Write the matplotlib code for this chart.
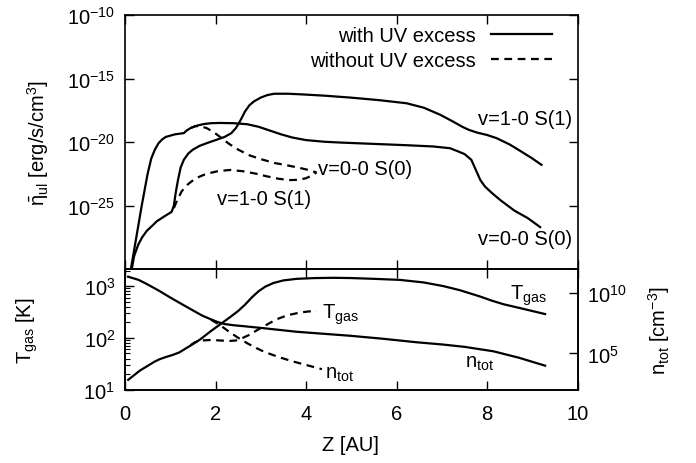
import numpy as np
import matplotlib
matplotlib.use("Agg")
import matplotlib.pyplot as plt
from matplotlib.ticker import FixedLocator, LogLocator, NullLocator, FuncFormatter, NullFormatter

plt.rcParams['font.family'] = ['Liberation Sans', 'DejaVu Sans']
plt.rcParams['mathtext.fontset'] = 'custom'
plt.rcParams['mathtext.rm'] = 'Liberation Sans'
plt.rcParams['mathtext.it'] = 'Liberation Sans'
plt.rcParams['mathtext.bf'] = 'Liberation Sans:bold'
FS = 14.5

# ---------------- data (log10 values) ----------------
# top panel: emissivity [erg/s/cm^3]
z_s00_uv = [0.13, 0.25, 0.37, 0.5, 0.58, 0.66, 0.74, 0.82, 0.9, 1.0, 1.1, 1.2, 1.3, 1.36, 1.45,
            1.6, 1.75, 1.9, 2.1, 2.4, 2.7, 2.95, 3.2, 3.45, 3.7, 4.0, 4.4, 4.8, 5.5, 6.2, 6.8,
            7.18, 7.33, 7.5, 7.65, 7.75, 7.85, 7.95, 8.1, 8.3, 8.6, 8.9, 9.17]
log_s00_uv = [-30, -27.5, -25.0, -22.5, -21.3, -20.6, -20.1, -19.8, -19.6, -19.5, -19.4, -19.35, -19.3,
              -19.1, -18.9, -18.7, -18.58, -18.52, -18.5, -18.52, -18.6, -18.8, -19.1, -19.4, -19.65,
              -19.85, -19.98, -20.05, -20.15, -20.25, -20.35, -20.49, -20.7, -20.95, -21.4, -22.2,
              -23.0, -23.5, -24.0, -24.6, -25.4, -26.0, -26.7]

z_s10_uv = [0.15, 0.2, 0.29, 0.38, 0.48, 0.6, 0.7, 0.85, 1.03, 1.08, 1.12, 1.17, 1.23, 1.3, 1.4,
            1.5, 1.65, 1.8, 2.0, 2.2, 2.35, 2.45, 2.55, 2.65, 2.75, 2.85, 3.0, 3.15, 3.3, 3.6,
            3.9, 4.4, 4.97, 5.6, 6.22, 6.6, 6.96, 7.25, 7.45, 7.6, 7.77, 8.0, 8.21, 8.5, 8.73,
            9.0, 9.2]
log_s10_uv = [-30, -29.0, -28.1, -27.5, -27.0, -26.6, -26.25, -25.9, -25.5, -25.0, -24.0, -23.0,
              -22.0, -21.4, -20.9, -20.6, -20.3, -20.1, -19.85, -19.6, -19.3, -18.9, -18.3, -17.6,
              -17.1, -16.8, -16.5, -16.3, -16.2, -16.2, -16.25, -16.35, -16.5, -16.7, -16.95, -17.3,
              -17.85, -18.4, -18.8, -19.05, -19.25, -19.45, -19.7, -20.2, -20.7, -21.3, -21.8]

z_s10_nouv = [1.08, 1.15, 1.25, 1.35, 1.47, 1.6, 1.8, 2.05, 2.32, 2.6, 2.9, 3.13, 3.4, 3.65,
              3.85, 4.0, 4.12, 4.23]
log_s10_nouv = [-25.2, -24.6, -23.9, -23.45, -23.1, -22.8, -22.5, -22.3, -22.2, -22.3, -22.5,
                -22.7, -22.9, -23.0, -22.97, -22.85, -22.65, -22.4]

z_s00_nouv = [1.45, 1.55, 1.65, 1.8, 1.95, 2.1, 2.3, 2.5, 2.75, 3.0, 3.3, 3.6, 3.87, 4.05, 4.23]
log_s00_nouv = [-18.9, -18.75, -18.75, -18.9, -19.2, -19.6, -20.15, -20.6, -21.05, -21.35,
                -21.65, -21.85, -22.05, -22.2, -22.4]

# bottom panel: gas temperature [K] and total density [cm^-3]
z_T_uv = [0.07, 0.2, 0.33, 0.5, 0.65, 0.77, 0.9, 1.05, 1.2, 1.35, 1.5, 1.66, 1.88, 2.1, 2.32,
          2.5, 2.65, 2.8, 2.95, 3.1, 3.28, 3.5, 3.79, 4.2, 4.6, 5.0, 5.5, 6.07, 6.6, 7.03, 7.4,
          7.84, 8.1, 8.36, 8.8, 9.28]
logT_uv = [1.19, 1.28, 1.37, 1.46, 1.54, 1.59, 1.63, 1.67, 1.72, 1.8, 1.88, 1.97, 2.12, 2.26,
           2.40, 2.52, 2.64, 2.78, 2.9, 2.99, 3.06, 3.11, 3.14, 3.155, 3.16, 3.155, 3.14, 3.12,
           3.07, 3.0, 2.92, 2.8, 2.72, 2.65, 2.56, 2.46]

z_T_nouv = [1.45, 1.55, 1.7, 1.9, 2.1, 2.3, 2.45, 2.6, 2.75, 2.9, 3.1, 3.35, 3.6, 3.87, 4.05, 4.23]
logT_nouv = [1.86, 1.92, 1.95, 1.96, 1.95, 1.94, 1.95, 2.0, 2.06, 2.14, 2.24, 2.36, 2.44, 2.49,
             2.51, 2.52]

z_n_uv = [0.07, 0.3, 0.48, 0.75, 0.99, 1.25, 1.51, 1.7, 1.88, 2.05, 2.2, 2.4, 2.6, 3.05, 3.79,
          4.97, 5.7, 6.44, 7.0, 7.5, 8.14, 8.7, 9.28]
logn_uv = [11.36, 11.1, 10.76, 10.2, 9.66, 9.1, 8.55, 8.15, 7.86, 7.6, 7.44, 7.34, 7.27, 7.1,
           6.8, 6.47, 6.22, 5.93, 5.75, 5.55, 5.18, 4.65, 3.99]

z_n_nouv = [1.9, 2.1, 2.3, 2.5, 2.7, 2.9, 3.1, 3.4, 3.7, 4.0, 4.35]
logn_nouv = [7.8, 7.35, 6.8, 6.3, 5.85, 5.45, 5.1, 4.7, 4.35, 4.05, 3.7]

x_ticks = [0, 2, 4, 6, 8, 10]

# ---------------- figure ----------------
W, H = 696, 464
fig = plt.figure(figsize=(W / 100, H / 100), dpi=100)
L, R = 125 / W, 577.7 / W
ax1 = fig.add_axes([L, 1 - 270 / H, R - L, 254 / H])
ax2 = fig.add_axes([L, 1 - 390.7 / H, R - L, 120.7 / H])
ax3 = ax2.twinx()

lw = 1.6
dash = (0, (3.5, 2.5))


def p(v):
    return 10 ** np.asarray(v, dtype=float)


kw = dict(solid_joinstyle='round', dash_joinstyle='round')
l1, = ax1.plot(z_s00_uv, p(log_s00_uv), 'k-', lw=lw, label='with UV excess', **kw)
ax1.plot(z_s10_uv, p(log_s10_uv), 'k-', lw=lw, **kw)
l2, = ax1.plot(z_s10_nouv, p(log_s10_nouv), color='k', ls=dash, lw=lw, label='without UV excess', **kw)
ax1.plot(z_s00_nouv, p(log_s00_nouv), color='k', ls=dash, lw=lw, **kw)

ax1.set_yscale('log')
ax1.set_xlim(0, 10)
ax1.set_ylim(1e-30, 1e-10)
ax1.yaxis.set_major_locator(FixedLocator([1e-30, 1e-25, 1e-20, 1e-15, 1e-10]))
ax1.yaxis.set_minor_locator(NullLocator())
ax1.yaxis.set_major_formatter(FuncFormatter(
    lambda v, pos: '' if v < 1e-29 else r'$10^{%d}$' % round(np.log10(v))))
ax1.xaxis.set_major_locator(FixedLocator(x_ticks))
ax1.xaxis.set_major_formatter(NullFormatter())

ax1.legend(handles=[l1, l2], loc='upper right', bbox_to_anchor=(0.9426, 0.955),
           frameon=False, markerfirst=False, fontsize=FS, handlelength=3.0,
           handletextpad=0.75, borderpad=0, borderaxespad=0, labelspacing=0.3)

ax1.text(9.87, p(-18.13), 'v=1-0 S(1)', ha='right', va='center', fontsize=FS)
ax1.text(9.87, p(-27.56), 'v=0-0 S(0)', ha='right', va='center', fontsize=FS)
ax1.text(4.27, p(-22.11), 'v=0-0 S(0)', ha='left', va='center', fontsize=FS)
ax1.text(2.03, p(-24.41), 'v=1-0 S(1)', ha='left', va='center', fontsize=FS)

# bottom panel
ax2.plot(z_T_uv, p(logT_uv), 'k-', lw=lw, **kw)
ax2.plot(z_T_nouv, p(logT_nouv), color='k', ls=dash, lw=lw, **kw)
ax3.plot(z_n_uv, p(logn_uv), 'k-', lw=lw, **kw)
ax3.plot(z_n_nouv, p(logn_nouv), color='k', ls=dash, lw=lw, **kw)

ax2.set_yscale('log')
ax2.set_ylim(10, 10 ** 3.33)
ax2.set_xlim(0, 10)
ax2.yaxis.set_major_locator(FixedLocator([10, 100, 1000]))
ax2.yaxis.set_minor_locator(LogLocator(base=10, subs=np.arange(2, 10)))
ax2.yaxis.set_minor_formatter(NullFormatter())
ax2.yaxis.set_major_formatter(FuncFormatter(lambda v, pos: r'$10^{%d}$' % round(np.log10(v))))
ax2.xaxis.set_major_locator(FixedLocator(x_ticks))
ax2.xaxis.set_major_formatter(FuncFormatter(lambda v, pos: '%d' % v))

ax3.set_yscale('log')
ax3.set_ylim(1e2, 1e12)
ax3.yaxis.set_major_locator(FixedLocator([1e5, 1e10]))
ax3.yaxis.set_minor_locator(NullLocator())
ax3.yaxis.set_major_formatter(FuncFormatter(lambda v, pos: r'$10^{%d}$' % round(np.log10(v))))

ax2.text(4.35, p(2.47), r'T$_{\rm gas}$', ha='left', va='center', fontsize=FS)
ax2.text(4.42, p(1.32), r'n$_{\rm tot}$', ha='left', va='center', fontsize=FS)
ax2.text(8.5, p(2.84), r'T$_{\rm gas}$', ha='left', va='center', fontsize=FS)
ax2.text(7.51, p(1.53), r'n$_{\rm tot}$', ha='left', va='center', fontsize=FS)

for ax in (ax1, ax2, ax3):
    for s in ax.spines.values():
        s.set_linewidth(1.2)
    ax.tick_params(which='major', direction='in', length=6.5, width=1.0, labelsize=FS, pad=7)
    ax.tick_params(which='minor', direction='in', length=3.5, width=0.8)

ax1.tick_params(top=True, right=True, labelbottom=False)
ax2.tick_params(top=True, right=False)
ax2.tick_params(axis='x', pad=10)
ax2.tick_params(axis='y', which='minor', right=False)
ax3.tick_params(right=True, left=False)

fig.text(38 / W, 1 - 143 / H, r'$\bar{\eta}_{\rm ul}$ [erg/s/cm$^3$]', rotation=90,
         ha='center', va='center', fontsize=FS)
fig.text(27 / W, 1 - 331 / H, r'T$_{\rm gas}$ [K]', rotation=90, ha='center', va='center', fontsize=FS)
fig.text(659 / W, 1 - 331 / H, r'n$_{\rm tot}$ [cm$^{-3}$]', rotation=90, ha='center', va='center', fontsize=FS)
fig.text(350 / W, 1 - 446 / H, 'Z [AU]', ha='center', va='center', fontsize=FS)

fig.savefig('out.png', dpi=100)
